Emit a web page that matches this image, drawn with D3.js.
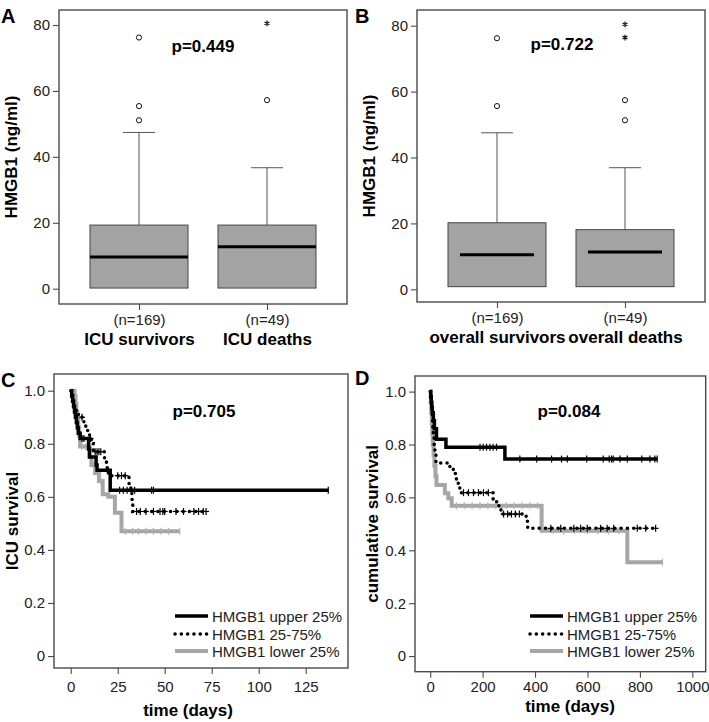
<!DOCTYPE html>
<html><head><meta charset="utf-8">
<script src="https://cdn.jsdelivr.net/npm/d3@7"></script>
<style>
body{margin:0;background:#fff;}
svg{display:block;font-family:"Liberation Sans",Arial,Helvetica,sans-serif;}
</style></head><body>
<svg id="chart" width="709" height="722"></svg>
<script>
// ---------------- DATA ----------------
// Panel A: ICU outcome box plot
const groupsA = ["ICU survivors", "ICU deaths"];
const countsA = ["(n=169)", "(n=49)"];
const q1A = [0.2, 0.2];
const medianA = [9.6, 12.7];
const q3A = [19.3, 19.3];
const whiskerA = [47.4, 36.7];
const outliersA = [[76.2, 55.4, 51.1], [57.2]];
const extremesA = [[], [80.5]];
const pValueA = "p=0.449";

// Panel B: overall outcome box plot
const groupsB = ["overall survivors", "overall deaths"];
const countsB = ["(n=169)", "(n=49)"];
const q1B = [0.8, 0.8];
const medianB = [10.5, 11.3];
const q3B = [20.2, 18.1];
const whiskerB = [47.5, 36.9];
const outliersB = [[76.2, 55.6], [57.4, 51.3]];
const extremesB = [[], [80.4, 76.4]];
const pValueB = "p=0.722";

const boxTicks = [0, 20, 40, 60, 80];

// Panel C: ICU survival (Kaplan-Meier), [day, survival]
const icuUpperEvents = [[0.5,0.98],[1,0.96],[1.5,0.94],[2,0.92],[2.5,0.90],[3,0.88],[3.5,0.86],[4,0.84],[5,0.82],[9.5,0.78],[10,0.75],[13.5,0.72],[14,0.70],[21,0.625]];
const icuUpperCensors = [2.2, 3.2, 6, 7, 26, 28, 30, 34, 43, 44, 137];
const icuUpperEnd = 137;
const icuMidEvents = [[0.5,0.985],[1,0.97],[1.5,0.955],[2,0.94],[3,0.925],[4,0.91],[5,0.90],[7,0.88],[8,0.86],[9,0.84],[10,0.82],[11,0.80],[12,0.77],[18,0.74],[19,0.71],[20,0.68],[31,0.65],[32,0.62],[32.5,0.59],[33,0.545]];
const icuMidCensors = [6, 10.5, 13, 14, 15, 16, 25, 27, 29, 35, 37, 40, 44, 47.5, 49, 50, 56, 60, 65.5, 68, 70.5, 72];
const icuMidEnd = 72;
const icuLowEvents = [[2,0.98],[2.5,0.95],[3,0.92],[3.5,0.89],[4,0.86],[4.5,0.83],[5,0.79],[10,0.75],[11,0.72],[13,0.69],[15,0.66],[17,0.61],[20,0.60],[23.5,0.54],[27,0.47]];
const icuLowCensors = [3, 6, 8, 12, 16, 29, 33, 36, 40, 44, 48, 52, 58];
const icuLowEnd = 58;
const pValueC = "p=0.705";
const icuTimeTicks = [0, 25, 50, 75, 100, 125];

// Panel D: cumulative survival (Kaplan-Meier), [day, survival]
const allUpperEvents = [[2,0.98],[4,0.96],[6,0.94],[8,0.92],[12,0.89],[16,0.86],[24,0.82],[60,0.79],[285,0.745]];
const allUpperCensors = [190, 202, 215, 228, 240, 253, 342, 406, 463, 501, 523, 597, 660, 683, 692, 698, 724, 752, 807, 838, 857, 866];
const allUpperEnd = 866;
const allMidEvents = [[2,0.98],[4,0.95],[6,0.92],[8,0.89],[10,0.86],[12,0.83],[15,0.80],[18,0.77],[22,0.73],[75,0.71],[88,0.69],[100,0.665],[107,0.645],[113,0.618],[240,0.584],[262,0.56],[270,0.537],[366,0.51],[372,0.483]];
const allMidCensors = [127, 146, 165, 184, 203, 222, 280, 295, 310, 325, 340, 460, 498, 548, 574, 599, 650, 675, 700, 790, 822, 860];
const allMidEnd = 866;
const allLowEvents = [[2,0.96],[4,0.92],[6,0.88],[8,0.84],[10,0.80],[13,0.76],[16,0.72],[20,0.68],[24,0.647],[56,0.616],[69,0.597],[82,0.568],[425,0.474],[752,0.355]];
const allLowCensors = [100, 130, 160, 190, 220, 250, 290, 320, 350, 380, 410, 470, 510, 550, 600, 640, 680, 720, 886];
const allLowEnd = 886;
const pValueD = "p=0.084";
const allTimeTicks = [0, 200, 400, 600, 800, 1000];

const survTicks = [0, 0.2, 0.4, 0.6, 0.8, 1.0];
const legendLabels = ["HMGB1 upper 25%", "HMGB1 25-75%", "HMGB1 lower 25%"];

// ---------------- DRAWING ----------------
const svg = d3.select("#chart");
const FRAME = "#4a4a4a";
const FONT = "'Liberation Sans', Arial, Helvetica, sans-serif";

function styleAxis(sel) {
  sel.attr("font-family", FONT).attr("font-size", 15);
  sel.select(".domain").remove();
  sel.selectAll(".tick line").attr("stroke", FRAME).attr("stroke-width", 1.1);
  sel.selectAll(".tick text").attr("font-size", 15).attr("fill", "#222");
}

function drawFrame(g, c) {
  g.append("rect").attr("x", c.left).attr("y", c.top)
    .attr("width", c.right - c.left).attr("height", c.bottom - c.top)
    .attr("fill", "none").attr("stroke", FRAME).attr("stroke-width", 1.4);
}

function commonText(g, c) {
  g.append("text").attr("x", c.letterX).attr("y", c.letterY)
    .attr("font-size", 20).attr("font-weight", "bold").text(c.letter);
  g.append("text").attr("x", c.pX).attr("y", c.pY).attr("text-anchor", "middle")
    .attr("font-size", 17).attr("font-weight", "bold").text(c.p);
  g.append("text").attr("transform", `translate(${c.yTitleX},${(c.top + c.bottom) / 2}) rotate(-90)`)
    .attr("text-anchor", "middle").attr("font-size", 17).attr("font-weight", "bold").text(c.yTitle);
}

function boxPanel(c) {
  const g = svg.append("g");
  const x = d3.scalePoint().domain(c.groups).range([c.left, c.right]).padding(0.625);
  const y = d3.scaleLinear().domain(c.yDomain).range([c.bottom, c.top]);

  const ya = g.append("g").attr("transform", `translate(${c.left},0)`)
    .call(d3.axisLeft(y).tickValues(boxTicks).tickSize(6).tickPadding(3));
  styleAxis(ya);
  const xa = g.append("g").attr("transform", `translate(0,${c.bottom})`)
    .call(d3.axisBottom(x).tickSize(6).tickPadding(4.5).tickFormat((d, i) => c.counts[i]));
  styleAxis(xa);
  xa.selectAll(".tick").append("text").attr("y", 41).attr("fill", "#000")
    .attr("font-size", 17).attr("font-weight", "bold").attr("text-anchor", "middle")
    .text(d => d);

  const boxHalf = 49, capHalf = 16;
  c.groups.forEach((grp, i) => {
    const cx = x(grp);
    g.append("line").attr("x1", cx).attr("x2", cx).attr("y1", y(c.q3[i])).attr("y2", y(c.whisker[i]))
      .attr("stroke", "#555").attr("stroke-width", 1);
    g.append("line").attr("x1", cx - capHalf).attr("x2", cx + capHalf).attr("y1", y(c.whisker[i])).attr("y2", y(c.whisker[i]))
      .attr("stroke", "#555").attr("stroke-width", 1);
    g.append("rect").attr("x", cx - boxHalf).attr("width", 2 * boxHalf)
      .attr("y", y(c.q3[i])).attr("height", y(c.q1[i]) - y(c.q3[i]))
      .attr("fill", "#a3a3a3").attr("stroke", "#444").attr("stroke-width", 1);
    g.append("line").attr("x1", cx - boxHalf + c.medInset).attr("x2", cx + boxHalf - c.medInset)
      .attr("y1", y(c.median[i])).attr("y2", y(c.median[i]))
      .attr("stroke", "#000").attr("stroke-width", 3);
    c.outliers[i].forEach(v => {
      g.append("circle").attr("cx", cx).attr("cy", y(v)).attr("r", 2.6)
        .attr("fill", "#fff").attr("stroke", "#111").attr("stroke-width", 1);
    });
    c.extremes[i].forEach(v => {
      g.append("path").attr("d", d3.symbol(d3.symbolAsterisk, 22)())
        .attr("transform", `translate(${cx},${y(v)})`)
        .attr("fill", "none").attr("stroke", "#111").attr("stroke-width", 1.2);
    });
  });
  drawFrame(g, c);
  commonText(g, c);
}

const styles = [
  { color: "#000", width: 3.5, dash: null },
  { color: "#000", width: 3.5, dash: "0.1 6.2" },
  { color: "#a6a6a6", width: 4, dash: null }
];

function survAt(events, t) {
  let s = 1;
  events.forEach(e => { if (e[0] <= t) s = e[1]; });
  return s;
}

function kmPanel(c) {
  const g = svg.append("g");
  const x = d3.scaleLinear().domain(c.xDomain).range([c.left, c.right]);
  const y = d3.scaleLinear().domain(c.yDomain).range([c.bottom, c.top]);

  const ya = g.append("g").attr("transform", `translate(${c.left},0)`)
    .call(d3.axisLeft(y).tickValues(survTicks).tickFormat(d => d === 0 ? "0" : d3.format(".1f")(d)).tickSize(6).tickPadding(3));
  styleAxis(ya);
  const xa = g.append("g").attr("transform", `translate(0,${c.bottom})`)
    .call(d3.axisBottom(x).tickValues(c.xTicks).tickFormat(d3.format("d")).tickSize(6).tickPadding(c.xPad));
  styleAxis(xa);
  g.append("text").attr("x", c.xTitleX).attr("y", c.xTitleY).attr("text-anchor", "middle")
    .attr("font-size", 17).attr("font-weight", "bold").text("time (days)");

  const line = d3.line().x(d => x(d[0])).y(d => y(d[1])).curve(d3.curveStepAfter);
  const order = [2, 0, 1];
  order.forEach(k => {
    const s = c.series[k], st = styles[k];
    const pts = [[0, 1]].concat(s.events, [[s.end, s.events[s.events.length - 1][1]]]);
    g.append("path").attr("d", line(pts)).attr("fill", "none")
      .attr("stroke", st.color).attr("stroke-width", st.width)
      .attr("stroke-dasharray", st.dash).attr("stroke-linecap", st.dash ? "round" : "butt")
      .attr("stroke-linejoin", "miter");
    s.censors.forEach(t => {
      const v = y(survAt(s.events, t));
      g.append("line").attr("x1", x(t)).attr("x2", x(t)).attr("y1", v - 3.5).attr("y2", v + 3.5)
        .attr("stroke", k === 2 ? "#b0b0b0" : "#000").attr("stroke-width", 1.2);
      if (k === 1) {
        g.append("line").attr("x1", x(t) - 3).attr("x2", x(t) + 3).attr("y1", v).attr("y2", v)
          .attr("stroke", "#000").attr("stroke-width", 1.2);
      }
    });
  });

  legendLabels.forEach((lab, k) => {
    const ry = c.legendRows[k], st = styles[k];
    g.append("line").attr("x1", c.legendX).attr("x2", c.legendX + 33).attr("y1", ry).attr("y2", ry)
      .attr("stroke", st.color).attr("stroke-width", st.width)
      .attr("stroke-dasharray", st.dash).attr("stroke-linecap", st.dash ? "round" : "butt");
    g.append("text").attr("x", c.legendX + 37).attr("y", ry + 5.5)
      .attr("font-size", 15).attr("fill", "#222").text(lab);
  });

  drawFrame(g, c);
  commonText(g, c);
}

boxPanel({
  left: 59, right: 347, top: 10, bottom: 304, yDomain: [-4.64, 84.55],
  groups: groupsA, counts: countsA, q1: q1A, median: medianA, q3: q3A, whisker: whiskerA,
  outliers: outliersA, extremes: extremesA, medInset: 0,
  letter: "A", letterX: 1, letterY: 23, p: pValueA, pX: 203, pY: 51.5,
  yTitle: "HMGB1 (ng/ml)", yTitleX: 17
});
boxPanel({
  left: 417, right: 705, top: 10, bottom: 302, yDomain: [-3.85, 84.76],
  groups: groupsB, counts: countsB, q1: q1B, median: medianB, q3: q3B, whisker: whiskerB,
  outliers: outliersB, extremes: extremesB, medInset: 12,
  letter: "B", letterX: 355, letterY: 23, p: pValueB, pX: 562, pY: 50,
  yTitle: "HMGB1 (ng/ml)", yTitleX: 375
});
kmPanel({
  left: 54, right: 348, top: 374, bottom: 668, xDomain: [-8.9, 147.5], yDomain: [-0.045, 1.063],
  xTicks: icuTimeTicks, xPad: 7, xTitleX: 188, xTitleY: 716,
  series: [
    { events: icuUpperEvents, censors: icuUpperCensors, end: icuUpperEnd },
    { events: icuMidEvents, censors: icuMidCensors, end: icuMidEnd },
    { events: icuLowEvents, censors: icuLowCensors, end: icuLowEnd }
  ],
  legendX: 175, legendRows: [616, 634, 651],
  letter: "C", letterX: 1, letterY: 387, p: pValueC, pX: 204, pY: 417,
  yTitle: "ICU survival", yTitleX: 18
});
kmPanel({
  left: 415, right: 705.7, top: 376, bottom: 671.7, xDomain: [-58, 1051], yDomain: [-0.059, 1.059],
  xTicks: allTimeTicks, xPad: 3.5, xTitleX: 570, xTitleY: 712,
  series: [
    { events: allUpperEvents, censors: allUpperCensors, end: allUpperEnd },
    { events: allMidEvents, censors: allMidCensors, end: allMidEnd },
    { events: allLowEvents, censors: allLowCensors, end: allLowEnd }
  ],
  legendX: 530, legendRows: [616, 634, 651],
  letter: "D", letterX: 355, letterY: 385, p: pValueD, pX: 569, pY: 417,
  yTitle: "cumulative survival", yTitleX: 378
});
</script>
</body></html>
